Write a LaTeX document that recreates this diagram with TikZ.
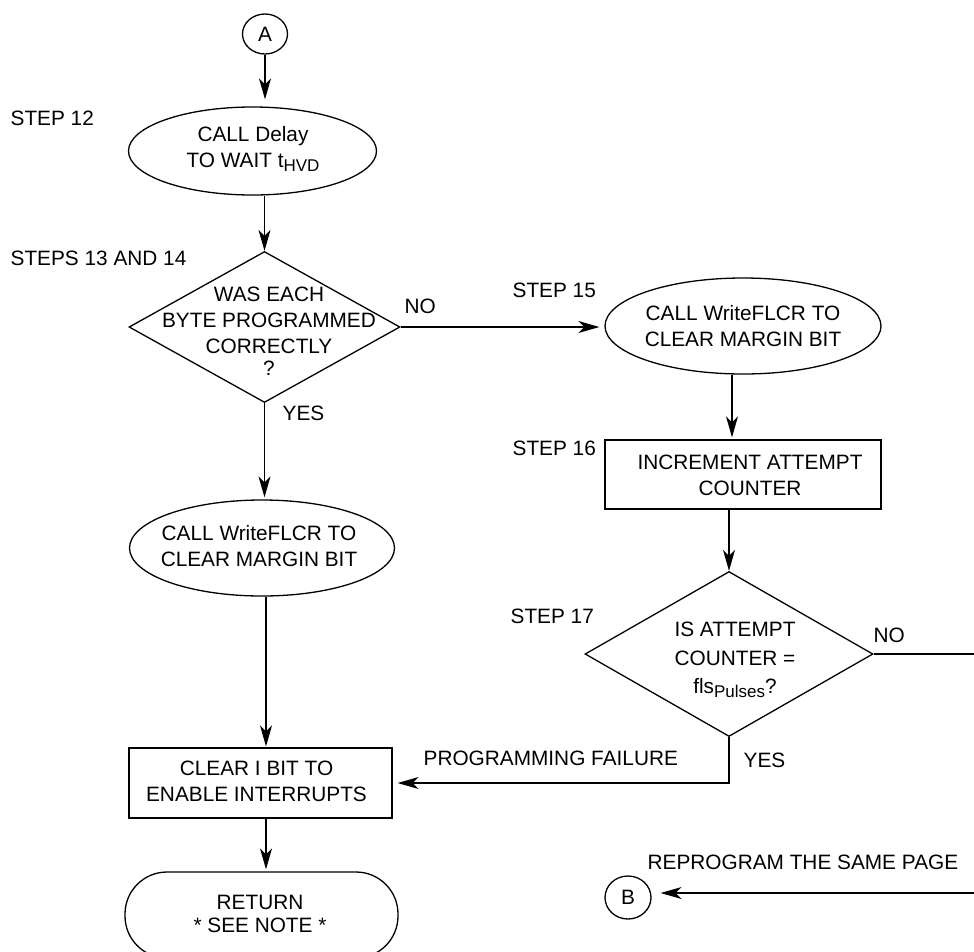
\documentclass[tikz,border=0pt]{standalone}
\usepackage{fontspec}
\setmainfont{Liberation Sans}
\usetikzlibrary{shapes.geometric,arrows.meta}
\newcommand{\subtxt}[1]{\raisebox{-4pt}{\fontsize{17}{17}\selectfont #1}}
\begin{document}
\begin{tikzpicture}[x=1pt,y=-1pt, line width=1.3pt,
  every node/.style={font=\fontsize{20.8}{26}\selectfont, inner sep=0pt},
  shp/.style={draw, line width=1.3pt},
  ell/.style={shp, ellipse},
  dia/.style={shp, diamond},
  boxn/.style={shp, rectangle},
  conn/.style={shp, ellipse},
  txt/.style={align=center},
  lbl/.style={anchor=west},
  arr/.style={-{Stealth[length=21pt,width=12pt,inset=6pt]}},
]
\useasboundingbox (0,0) rectangle (974,951);

% shapes
\node[conn, minimum width=45, minimum height=40] (A) at (265,34) {A};
\node[ell, minimum width=248, minimum height=88] (e1) at (252.5,151) {};
\node[txt] (e1t) at (253,149) {CALL Delay\\TO WAIT t\subtxt{HVD}};
\node[dia, minimum width=271, minimum height=151] (d1) at (264.5,327) {};
\node[txt] (d1t) at (269,331) {WAS EACH\\BYTE PROGRAMMED\\CORRECTLY\\[-4pt]?};
\node[ell, minimum width=276, minimum height=96] (e2) at (743,326) {};
\node[txt] (e2t) at (743,326.5) {CALL WriteFLCR TO\\CLEAR MARGIN BIT};
\node[boxn, minimum width=276, minimum height=69] (r1) at (743,474.5) {};
\node[txt] (r1t) at (750,475) {INCREMENT ATTEMPT\\COUNTER};
\node[dia, minimum width=288, minimum height=165] (d2) at (729,654) {};
\node[txt] (d2t) at (735,660) {IS ATTEMPT\\[2.5pt]COUNTER =\\[2.5pt]fls\subtxt{Pulses}?};
\node[ell, minimum width=265, minimum height=96] (e3) at (262,548) {};
\node[txt] (e3t) at (259,546) {CALL WriteFLCR TO\\CLEAR MARGIN BIT};
\node[boxn, minimum width=263, minimum height=70] (r2) at (260.5,783) {};
\node[txt] (r2t) at (256.5,781) {CLEAR I BIT TO\\ENABLE INTERRUPTS};
\node[boxn, rounded corners=42pt, minimum width=273, minimum height=86] (term) at (261.5,915) {};
\node[txt] (termt) at (260,913.5) {RETURN\\[-3pt]* SEE NOTE *};
\node[conn, minimum width=46, minimum height=43] (B) at (628,897.5) {B};

% labels
\node[lbl] (s12) at (10,118) {STEP 12};
\node[lbl] (s1314) at (10,258) {STEPS 13 AND 14};
\node[lbl] (s15) at (512,290) {STEP 15};
\node[lbl] (s16) at (512,448) {STEP 16};
\node[lbl] (s17) at (510,616) {STEP 17};
\node[lbl] (no1) at (404,306) {NO};
\node[lbl] (yes1) at (282,413) {YES};
\node[lbl] (no2) at (873,635) {NO};
\node[lbl] (yes2) at (743,760) {YES};
\node[lbl] (pf) at (423,758) {PROGRAMMING FAILURE};
\node[lbl] (rp) at (647,862) {REPROGRAM THE SAME PAGE};

% connectors
\coordinate (colx) at (266,0);
\coordinate (edgeN) at (974,654);
\coordinate (edgeB) at (974,893);
\draw[arr, shorten >=7pt] (A.south) -- (A.south |- e1.north);
\draw[arr] (d1.north |- e1.south) -- (d1.north);
\draw[arr, shorten >=5pt] (d1.east) -- (d1.east -| e2.west);
\draw[arr, shorten >=2pt] (d1.south) -- (d1.south |- e3.north);
\draw[arr, shorten >=2pt] ([xshift=-11pt]e2.south) -- ([xshift=-11pt]e2.south |- r1.north);
\draw[arr] (r1.south -| d2.north) -- (d2.north);
\draw (d2.east) -- (edgeN);
\draw[arr, shorten >=5pt] (d2.south) |- (r2.east);
\draw[arr, shorten >=1pt] (e3.south -| colx) -- (r2.north -| colx);
\draw[arr, shorten >=2pt] (r2.south -| colx) -- (term.north -| colx);
\draw[arr, shorten >=9pt] (edgeB) -- (edgeB -| B.east);
\end{tikzpicture}
\end{document}
